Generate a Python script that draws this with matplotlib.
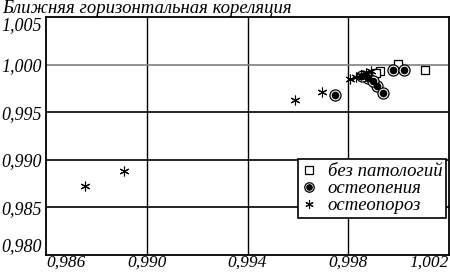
import matplotlib.pyplot as plt
from matplotlib.ticker import FuncFormatter
from matplotlib.legend_handler import HandlerTuple

# ---------- Data ----------

x_ticks = [0.986, 0.990, 0.994, 0.998, 1.002]
y_ticks = [0.980, 0.985, 0.990, 0.995, 1.000, 1.005]

norm_x = [0.99926, 0.99998, 1.00105, 0.99890, 0.99910]
norm_y = [0.99933, 1.00006, 0.99943, 0.99890, 0.99915]

osteopenia_x = [0.99978, 1.00022, 0.99914, 0.99938, 0.99878, 0.99898, 0.99855, 0.99747]
osteopenia_y = [0.99943, 0.99943, 0.99775, 0.99701, 0.99859, 0.99828, 0.99880, 0.99681]

osteoporosis_x = [0.98755, 0.98910, 0.99589, 0.99696, 0.99807, 0.99830, 0.99850, 0.99870, 0.99890]
osteoporosis_y = [0.98725, 0.98883, 0.99628, 0.99712, 0.99849, 0.99870, 0.99891, 0.99912, 0.99933]

labels = ["без патологий", "остеопения", "остеопороз"]
title = "Ближняя горизонтальная кореляция"

# ---------- Plot ----------

plt.rcParams["font.family"] = ["Liberation Serif", "DejaVu Serif"]
plt.rcParams["font.style"] = "italic"

fig = plt.figure(figsize=(4.5, 2.73), dpi=100)
ax = fig.add_axes([0.1022, 0.066, 0.8956, 0.8717])

ax.set_xlim(x_ticks[0], x_ticks[-1])
ax.set_ylim(y_ticks[0], y_ticks[-1])
ax.set_xticks(x_ticks)
ax.set_yticks(y_ticks)

comma = FuncFormatter(lambda v, pos: f"{v:.3f}".replace(".", ","))
ax.xaxis.set_major_formatter(comma)
ax.yaxis.set_major_formatter(comma)
ax.tick_params(axis="x", length=0, labelsize=12.5, pad=0)
ax.tick_params(axis="y", length=0, labelsize=13, pad=3)

xl = ax.get_xticklabels()
xl[0].set_ha("left")
xl[-1].set_ha("right")
yl = ax.get_yticklabels()
yl[-1].set_va("top")
yl[0].set_va("bottom")

for xv in x_ticks[1:-1]:
    ax.axvline(xv, color="black", lw=1.0, zorder=1)
for yv in y_ticks[1:-1]:
    ax.axhline(yv, color="#808080" if yv == 1.000 else "black", lw=1.2, zorder=1)

for s in ax.spines.values():
    s.set_linewidth(1.3)

h_norm, = ax.plot(norm_x, norm_y, ls="none", marker="s", ms=6,
                  mfc="white", mec="black", mew=0.9, zorder=3)
h_op1, = ax.plot(osteopenia_x, osteopenia_y, ls="none", marker="o", ms=8,
                 mfc="white", mec="black", mew=0.9, zorder=4)
h_op2, = ax.plot(osteopenia_x, osteopenia_y, ls="none", marker="o", ms=4.5,
                 mfc="black", mec="black", zorder=5)
h_por, = ax.plot(osteoporosis_x, osteoporosis_y, ls="none", marker=(6, 2, 0), ms=7,
                 color="black", mew=0.8, zorder=6)

leg = ax.legend([h_norm, (h_op1, h_op2), h_por], labels,
                handler_map={tuple: HandlerTuple(ndivide=1)},
                loc="lower right", bbox_to_anchor=(0.993, 0.155),
                fontsize=13.5, frameon=True, fancybox=False, framealpha=1,
                edgecolor="black", handlelength=0.8, handletextpad=0.6,
                borderpad=0.2, labelspacing=0.0, borderaxespad=0,
                markerscale=0.85)
leg.get_frame().set_linewidth(1.2)

fig.text(0.005, 1.0, title, ha="left", va="top", fontsize=13.5)

fig.savefig("out.png", dpi=100)
